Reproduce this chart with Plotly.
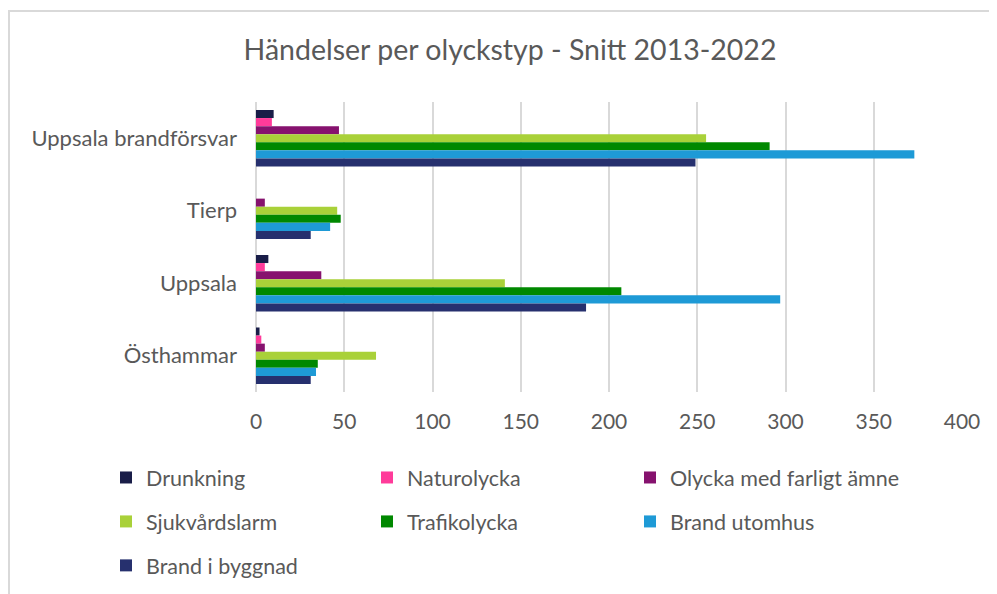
import plotly.graph_objects as go

# kommuner, top to bottom
kommuner = ["Uppsala brandförsvar", "Tierp", "Uppsala", "Östhammar"]

drunkning = [10, 0, 7, 2]
naturolycka = [9, 0, 5, 3]
farligt_amne = [47, 5, 37, 5]
sjukvardslarm = [255, 46, 141, 68]
trafikolycka = [291, 48, 207, 35]
brand_utomhus = [373, 42, 297, 34]
brand_byggnad = [249, 31, 187, 31]

x_ticks = [0, 50, 100, 150, 200, 250, 300, 350, 400]

# legend column each series sits in (three columns like the original)
series = [
    ("Drunkning", drunkning, "#191d48", "legend"),
    ("Naturolycka", naturolycka, "#ff3b9a", "legend2"),
    ("Olycka med farligt ämne", farligt_amne, "#86126e", "legend3"),
    ("Sjukvårdslarm", sjukvardslarm, "#a9d139", "legend"),
    ("Trafikolycka", trafikolycka, "#008800", "legend2"),
    ("Brand utomhus", brand_utomhus, "#1e9ad6", "legend3"),
    ("Brand i byggnad", brand_byggnad, "#26306e", "legend"),
]

FONT = "Lato"
GREY = "#595959"
W, H = 997, 594
# page body has an 8px margin, positions below are in figure pixels
L, R, T, B = 248, 43, 94, 210

fig = go.Figure()
for name, vals, col, leg in series:
    fig.add_trace(go.Bar(
        name=name, y=kommuner, x=vals, orientation="h",
        marker=dict(color=col, line=dict(width=0)),
        legend=leg, legendgroup=name,
    ))

leg_common = dict(orientation="v", xref="container", yref="container",
                  xanchor="left", yanchor="top", tracegroupgap=13,
                  font=dict(family=FONT, size=21.5, color=GREY),
                  bgcolor="rgba(0,0,0,0)", itemwidth=30)
leg_top = 1 - 449 / H

fig.update_layout(
    width=W, height=H,
    margin=dict(l=L, r=R, t=T, b=B, autoexpand=False),
    plot_bgcolor="white", paper_bgcolor="white",
    barmode="group", bargap=0.22, bargroupgap=0,
    title=dict(text="Händelser per olyckstyp - Snitt 2013-2022",
               x=502 / W, xref="container", xanchor="center",
               y=1 - 42 / H, yref="container", yanchor="middle",
               font=dict(family=FONT, size=28.5, color=GREY)),
    legend=dict(leg_common, x=98 / W, y=leg_top),
    legend2=dict(leg_common, x=359 / W, y=leg_top),
    legend3=dict(leg_common, x=622 / W, y=leg_top),
    font=dict(family=FONT, color=GREY),
)

fig.update_xaxes(range=[0, 400], tickvals=x_ticks, showgrid=True,
                 gridcolor="#d9d9d9", gridwidth=2, zeroline=True,
                 zerolinecolor="#d9d9d9", zerolinewidth=2, showline=False,
                 tickfont=dict(family=FONT, size=21, color=GREY),
                 ticklabelstandoff=15, fixedrange=True)
fig.update_yaxes(autorange="reversed", showgrid=False, showline=False,
                 tickfont=dict(family=FONT, size=22, color=GREY),
                 ticklabelstandoff=18, fixedrange=True)

# light frame round the chart, as in the original
pw, ph = W - L - R, H - T - B
fig.add_shape(type="rect", xref="paper", yref="paper",
              x0=(1 - L) / pw, x1=(1010 - L) / pw,
              y0=1 - (610 - T) / ph, y1=1 + (T - 3) / ph,
              line=dict(color="#d9d9d9", width=2), layer="below")

fig.write_html("out.html")
